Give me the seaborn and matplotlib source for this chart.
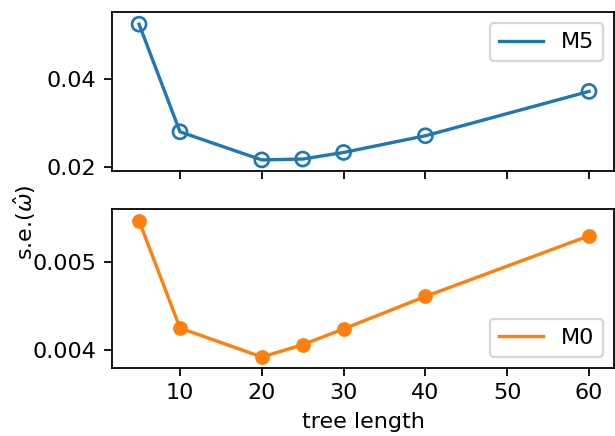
import pandas as pd
import matplotlib
matplotlib.use("Agg")
import matplotlib.pyplot as plt
import seaborn as sns

# data
tree_length = [5, 10, 20, 25, 30, 40, 60]
se_m5 = [0.0525, 0.0280, 0.0216, 0.0218, 0.0233, 0.0271, 0.0372]
se_m0 = [0.00547, 0.00425, 0.00392, 0.00406, 0.00424, 0.00461, 0.00530]

blue = sns.color_palette("tab10")[0]
orange = sns.color_palette("tab10")[1]

df5 = pd.DataFrame({"tree length": tree_length, "se": se_m5})
df0 = pd.DataFrame({"tree length": tree_length, "se": se_m0})

DPI = 160
fig, (ax1, ax2) = plt.subplots(2, 1, sharex=True, figsize=(615 / DPI, 436 / DPI), dpi=DPI)
fig.subplots_adjust(left=0.1816, right=0.999, top=0.9718, bottom=0.1566, hspace=0.236)

# top panel: M5, open markers
sns.lineplot(data=df5, x="tree length", y="se", color=blue, lw=1.5, label="M5", ax=ax1)
sns.scatterplot(data=df5, x="tree length", y="se", facecolor="none", edgecolor=blue,
                linewidth=1.2, s=40, legend=False, ax=ax1, zorder=3)
ax1.set_ylim(0.01902, 0.05521)
ax1.set_yticks([0.02, 0.04])
ax1.legend(loc="upper right")
ax1.set_xlabel("")
ax1.set_ylabel("")

# bottom panel: M0, filled markers
sns.lineplot(data=df0, x="tree length", y="se", color=orange, lw=1.5, label="M0", ax=ax2)
sns.scatterplot(data=df0, x="tree length", y="se", color=orange, edgecolor=orange,
                linewidth=0, s=44, legend=False, ax=ax2, zorder=3)
ax2.set_ylim(0.003798, 0.005608)
ax2.set_yticks([0.004, 0.005])
ax2.legend(loc="lower right")
ax2.set_ylabel("")
ax2.set_xlabel("tree length")

ax2.set_xlim(1.65, 63.1)
ax2.set_xticks([10, 20, 30, 40, 50, 60])

fig.text(0.04, 0.49, r"s.e.($\hat{\omega}$)", rotation=90, va="center", ha="center")

fig.savefig("out.png", dpi=DPI)
plt.close(fig)
